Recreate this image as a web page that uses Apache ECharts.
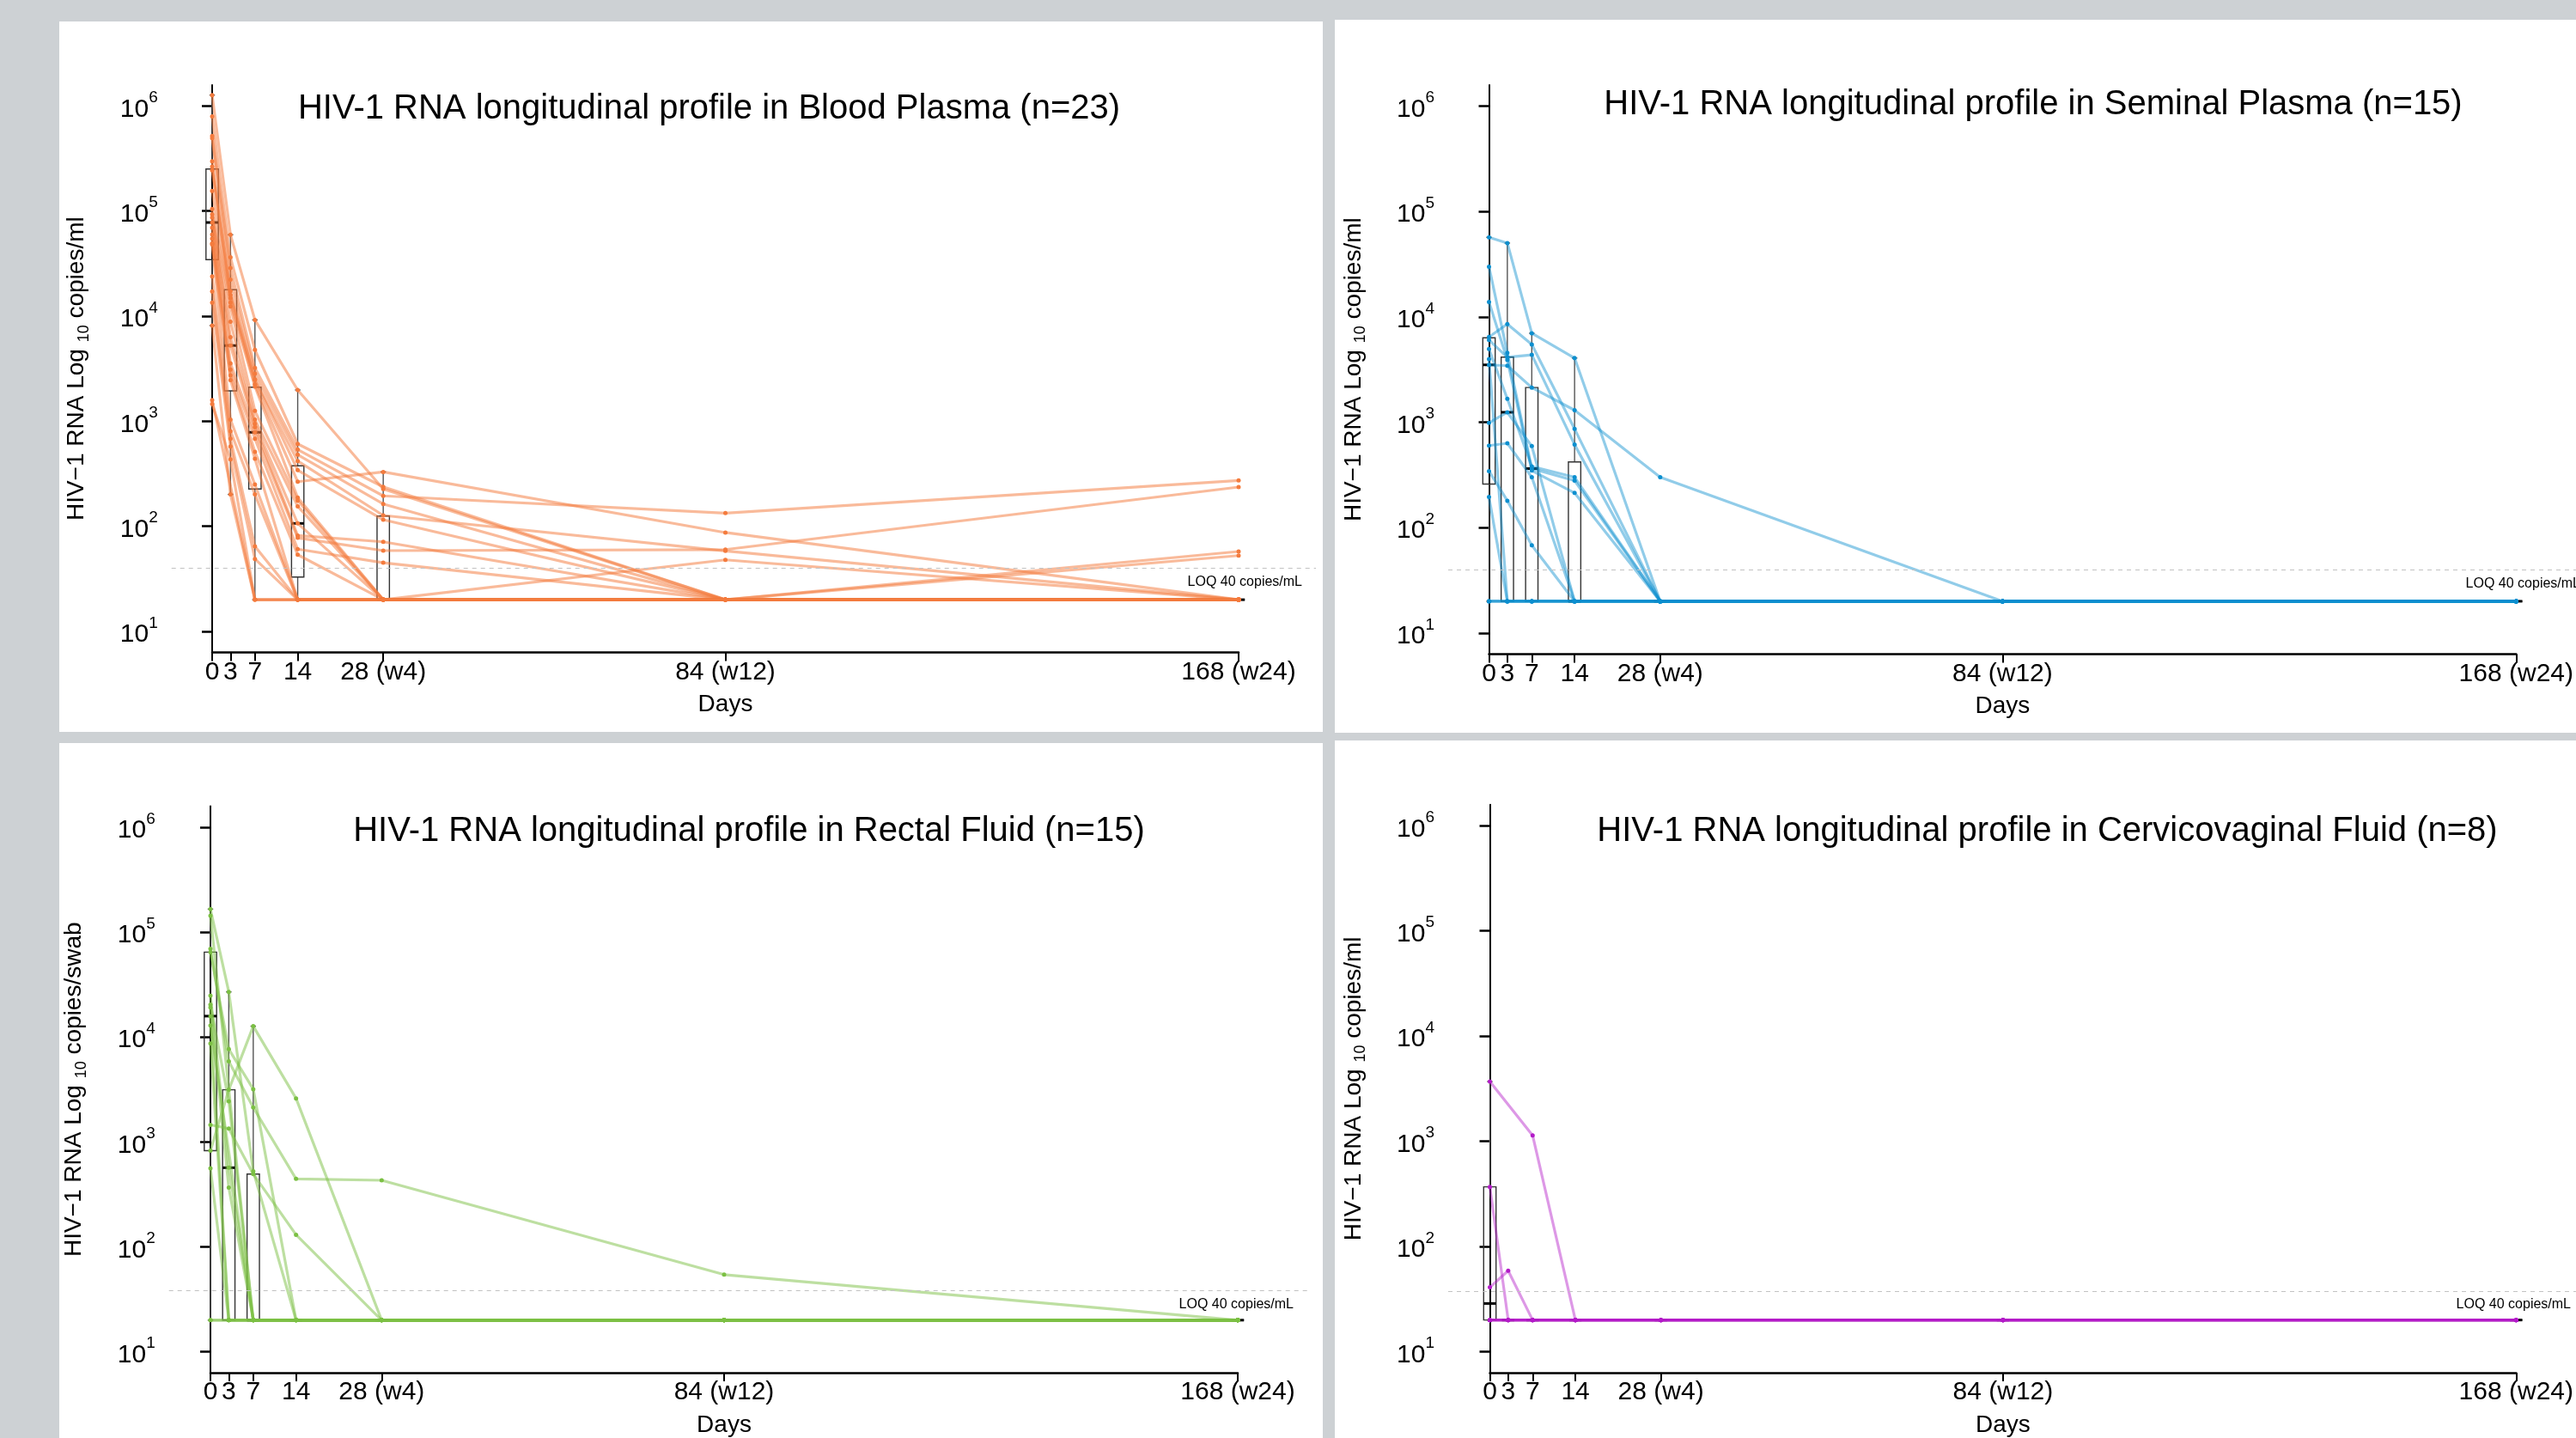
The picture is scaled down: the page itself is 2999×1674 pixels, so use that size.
<!DOCTYPE html>
<html>
<head>
<meta charset="utf-8">
<title>HIV-1 RNA longitudinal profiles</title>
<script src="https://cdn.jsdelivr.net/npm/echarts@6.0.0/dist/echarts.min.js"></script>
<style>
  html, body { margin: 0; padding: 0; background: #cdd1d4; }
  #chart { width: 2999px; height: 1674px; }
</style>
</head>
<body>
<div id="chart"></div>
<script>
// sampling days and their tick labels
const DAYS = [0, 3, 7, 14, 28, 84, 168];
const DAY_LABELS = ['0', '3', '7', '14', '28 (w4)', '84 (w12)', '168 (w24)'];
const LOG_TICKS = [1, 2, 3, 4, 5, 6];
const LOQ = 40; // copies/mL

// log10 copies per subject, one value per day (null = not sampled), <LOQ plotted at 20
const BLOOD_PLASMA = [
  [6.104, 4.774, 3.964, 3.297, 2.354, 1.301, 1.301],
  [5.900, 4.559, 3.679, 2.784, 2.375, 1.301, 1.301],
  [5.715, 4.457, 3.507, 2.730, 2.289, 2.125, 2.436],
  [5.695, 4.348, 3.452, 2.681, 2.212, 1.301, 1.301],
  [5.474, 4.238, 3.398, 2.621, 2.103, 1.765, 1.301],
  [5.423, 4.201, 3.392, 2.534, 2.062, 1.301, 1.301],
  [5.388, 4.172, 3.350, 2.424, 2.517, 1.940, 1.301],
  [5.191, 4.128, 3.330, 2.272, 1.301, 1.301, 1.301],
  [5.020, 4.092, 3.098, 2.244, 1.301, 1.301, 1.301],
  [4.968, 3.946, 3.015, 2.190, 1.301, 1.301, 1.301],
  [4.938, 3.800, 2.976, 2.027, 1.301, 1.680, 1.301],
  [4.891, 3.720, 2.943, 1.912, 1.852, 1.301, 1.760],
  [4.842, 3.551, 2.894, 1.890, 1.768, 1.778, 2.373],
  [4.777, 3.490, 2.833, 1.782, 1.653, 1.301, 1.721],
  [4.738, 3.435, 2.708, 1.729, 1.301, 1.301, 1.301],
  [4.693, 3.391, 2.643, 1.301, 1.301, 1.301, 1.301],
  [4.683, 3.015, 2.397, 1.301, 1.301, 1.301, 1.301],
  [4.379, 2.905, 2.303, 1.301, 1.301, 1.301, 1.301],
  [4.235, 2.832, 1.809, 1.301, 1.301, 1.301, 1.301],
  [4.128, 2.759, 1.689, 1.301, 1.301, 1.301, 1.301],
  [3.910, 2.303, 1.301, 1.301, 1.301, 1.301, 1.301],
  [3.201, null, 1.301, 1.301, 1.301, 1.301, 1.301],
  [3.164, 2.637, 1.301, 1.301, 1.301, 1.301, 1.301]
];
const SEMINAL_PLASMA = [
  [4.754, 4.700, 3.844, 3.609, 1.301, 1.301, 1.301],
  [4.476, 3.658, 2.560, 2.446, 1.301, 1.301, 1.301],
  [4.141, 3.590, 2.541, 2.329, 1.301, 1.301, 1.301],
  [3.809, 3.931, 3.738, 2.936, 1.301, 1.301, 1.301],
  [3.780, 3.617, 3.639, 2.787, 1.301, 1.301, 1.301],
  [3.694, 3.222, 2.580, 2.478, 1.301, 1.301, 1.301],
  [3.544, 3.536, 3.329, 3.114, 2.478, 1.301, 1.301],
  [2.994, 3.094, 2.773, 1.301, 1.301, 1.301, 1.301],
  [2.778, 2.800, 2.478, 1.301, 1.301, 1.301, 1.301],
  [2.536, 2.255, 1.832, 1.301, 1.301, 1.301, 1.301],
  [2.290, 1.301, 1.301, 1.301, 1.301, 1.301, 1.301],
  [3.600, 1.301, 1.301, 1.301, 1.301, 1.301, 1.301],
  [1.301, 1.301, 1.301, 1.301, 1.301, 1.301, 1.301],
  [1.301, 1.301, 1.301, 1.301, 1.301, 1.301, 1.301],
  [1.301, 1.301, 1.301, 1.301, 1.301, 1.301, 1.301]
];
const RECTAL_FLUID = [
  [5.219, 4.430, 2.721, 1.301, 1.301, 1.301, 1.301],
  [5.157, null, 1.301, 1.301, 1.301, 1.301, 1.301],
  [4.841, 3.769, 3.328, 2.648, 2.634, 1.735, 1.301],
  [4.809, 3.884, 3.503, 1.301, 1.301, 1.301, 1.301],
  [4.395, 2.754, 1.301, 1.301, 1.301, 1.301, 1.301],
  [4.308, 3.388, 1.301, 1.301, 1.301, 1.301, 1.301],
  [4.281, 2.564, 1.301, 1.301, 1.301, 1.301, 1.301],
  [4.199, 1.301, 1.301, 1.301, 1.301, 1.301, 1.301],
  [4.109, null, 1.301, 1.301, 1.301, 1.301, 1.301],
  [3.938, 1.301, 1.301, 1.301, 1.301, 1.301, 1.301],
  [3.162, 3.127, 2.694, 2.115, 1.301, 1.301, 1.301],
  [2.917, 3.497, 4.103, 3.415, 1.301, 1.301, 1.301],
  [2.748, 1.301, 1.301, 1.301, 1.301, 1.301, 1.301],
  [1.301, 1.301, 1.301, 1.301, 1.301, 1.301, 1.301],
  [1.301, 1.301, 1.301, 1.301, 1.301, 1.301, 1.301]
];
const CERVICOVAGINAL_FLUID = [
  [3.568, null, 3.057, 1.301, 1.301, 1.301, 1.301],
  [2.567, 1.301, 1.301, 1.301, 1.301, 1.301, 1.301],
  [1.612, 1.770, 1.301, 1.301, 1.301, 1.301, 1.301],
  [1.301, 1.301, 1.301, 1.301, 1.301, 1.301, 1.301],
  [1.301, 1.301, 1.301, 1.301, 1.301, 1.301, 1.301],
  [1.301, 1.301, 1.301, 1.301, 1.301, 1.301, 1.301],
  [1.301, 1.301, 1.301, 1.301, 1.301, 1.301, 1.301],
  [1.301, 1.301, 1.301, 1.301, 1.301, 1.301, 1.301]
];

// boxplot per day: [low whisker, q1, median, q3, high whisker] (log10)
const FLAT = [1.301, 1.301, 1.301, 1.301, 1.301];
const BLOOD_BOX = [
  [3.910, 4.537, 4.891, 5.400, 6.104],
  [2.303, 3.289, 3.720, 4.251, 4.774],
  [1.301, 2.354, 2.894, 3.324, 3.964],
  [1.301, 1.517, 2.027, 2.575, 3.297],
  [1.301, 1.301, 1.301, 2.097, 2.517],
  FLAT, FLAT
];
const SEMINAL_BOX = [
  [1.301, 2.413, 3.544, 3.801, 4.754],
  [1.301, 1.301, 3.094, 3.617, 4.700],
  [1.301, 1.301, 2.560, 3.329, 3.844],
  [1.301, 1.301, 1.301, 2.623, 3.609],
  FLAT, FLAT, FLAT
];
const RECTAL_BOX = [
  [1.301, 2.917, 4.199, 4.809, 5.219],
  [1.301, 1.301, 2.754, 3.497, 4.430],
  [1.301, 1.301, 1.301, 2.694, 4.103],
  FLAT, FLAT, FLAT, FLAT
];
const CERVICO_BOX = [
  [1.301, 1.301, 1.458, 2.567, 3.568],
  FLAT, FLAT, FLAT, FLAT, FLAT, FLAT
];

const FONT = '"Liberation Sans", Arial, Helvetica, sans-serif';

const PANELS = [
  { title: 'HIV-1 RNA longitudinal profile in Blood Plasma (n=23)', unit: 'copies/ml',
    subjects: BLOOD_PLASMA, box: BLOOD_BOX, color: '#F47B3D', alpha: 0.52,
    card: [69, 25, 1540, 852], axisX: 199.7, x0: 247, x168: 1442, top: 98.9, bottom: 759.4,
    wideRight: 1532, loqShift: 16, titleX: 825.5, titleTop: 106.5 },
  { title: 'HIV-1 RNA longitudinal profile in Seminal Plasma (n=15)', unit: 'copies/ml',
    subjects: SEMINAL_PLASMA, box: SEMINAL_BOX, color: '#0C8FCF', alpha: 0.45,
    card: [1554, 23, 2999, 853], axisX: 1686, x0: 1733.5, x168: 2933, top: 98.9, bottom: 761.4,
    wideRight: 2999, loqShift: -5, titleX: 2367, titleTop: 102 },
  { title: 'HIV-1 RNA longitudinal profile in Rectal Fluid (n=15)', unit: 'copies/swab',
    subjects: RECTAL_FLUID, box: RECTAL_BOX, color: '#7BC043', alpha: 0.5,
    card: [69, 865, 1540, 1674], axisX: 196.7, x0: 245, x168: 1441, top: 938.5, bottom: 1600.5,
    wideRight: 1522, loqShift: 16, titleX: 872, titleTop: 948 },
  { title: 'HIV-1 RNA longitudinal profile in Cervicovaginal Fluid (n=8)', unit: 'copies/ml',
    subjects: CERVICOVAGINAL_FLUID, box: CERVICO_BOX, color: '#B31BC8', alpha: 0.45,
    card: [1554, 862, 2999, 1674], axisX: 1686, x0: 1734.5, x168: 2933, top: 936.8, bottom: 1601.5,
    wideRight: 2999, loqShift: 6, titleX: 2383.5, titleTop: 948 }
];

const BOX_HALF = 7.2;
const CAP_HALF = 3.2;

function renderBox(params, api) {
  const x = api.value(0);
  const lo = api.coord([x, api.value(1)]);
  const q1 = api.coord([x, api.value(2)]);
  const md = api.coord([x, api.value(3)]);
  const q3 = api.coord([x, api.value(4)]);
  const hi = api.coord([x, api.value(5)]);
  const wStyle = { stroke: '#555', lineWidth: 1.4 };
  return {
    type: 'group',
    children: [
      { type: 'line', shape: { x1: lo[0], y1: lo[1], x2: q1[0], y2: q1[1] }, style: wStyle },
      { type: 'line', shape: { x1: q3[0], y1: q3[1], x2: hi[0], y2: hi[1] }, style: wStyle },
      { type: 'line', shape: { x1: lo[0] - CAP_HALF, y1: lo[1], x2: lo[0] + CAP_HALF, y2: lo[1] }, style: wStyle },
      { type: 'line', shape: { x1: hi[0] - CAP_HALF, y1: hi[1], x2: hi[0] + CAP_HALF, y2: hi[1] }, style: wStyle },
      { type: 'rect', shape: { x: q3[0] - BOX_HALF, y: q3[1], width: BOX_HALF * 2, height: q1[1] - q3[1] },
        style: { fill: 'none', stroke: '#333', lineWidth: 1.4 } },
      { type: 'line', shape: { x1: md[0] - BOX_HALF, y1: md[1], x2: md[0] + BOX_HALF, y2: md[1] },
        style: { stroke: '#000', lineWidth: 3 } }
    ]
  };
}

const grid = [], xAxis = [], yAxis = [], series = [], title = [], graphic = [];

PANELS.forEach((p, k) => {
  const gi = k * 2;
  const h = p.bottom - p.top;
  grid.push({ left: p.x0, top: p.top, width: p.x168 - p.x0, height: h });
  grid.push({ left: p.axisX, top: p.top, width: p.wideRight - p.axisX, height: h });

  graphic.push({ type: 'rect', z: -10, silent: true,
    shape: { x: p.card[0], y: p.card[1], width: p.card[2] - p.card[0], height: p.card[3] - p.card[1] },
    style: { fill: '#fff' } });

  title.push({ text: p.title, left: p.titleX, top: p.titleTop, textAlign: 'center', padding: 0,
    textStyle: { fontSize: 40, fontWeight: 'normal', fontFamily: FONT, color: '#000' } });

  xAxis.push({
    gridIndex: gi, type: 'value', min: 0, max: 168,
    name: 'Days', nameLocation: 'middle', nameGap: 47,
    nameTextStyle: { fontSize: 28, fontFamily: FONT, color: '#000' },
    axisLine: { show: true, lineStyle: { color: '#000', width: 2.5 } },
    axisTick: { show: true, customValues: DAYS, length: 10, lineStyle: { color: '#000', width: 2 } },
    axisLabel: { customValues: DAYS, hideOverlap: false, margin: 8,
      formatter: v => DAY_LABELS[DAYS.indexOf(v)],
      fontSize: 30, fontFamily: FONT, color: '#000' },
    splitLine: { show: false }
  });
  xAxis.push({ gridIndex: gi + 1, type: 'value', min: 0, max: 1, show: false });

  yAxis.push({
    gridIndex: gi, type: 'value', min: 0.8, max: 6.2, offset: p.x0 - p.axisX,
    name: '{n|HIV\u22121 RNA Log }{s|10}{n| ' + p.unit + '}',
    nameLocation: 'middle', nameGap: 93,
    nameTextStyle: {
      rich: {
        n: { fontSize: 28, fontFamily: FONT, color: '#000', lineHeight: 34 },
        s: { fontSize: 18, fontFamily: FONT, color: '#000', lineHeight: 34, verticalAlign: 'bottom' }
      }
    },
    axisLine: { show: true, lineStyle: { color: '#000', width: 2 } },
    axisTick: { show: true, customValues: LOG_TICKS, length: 12, lineStyle: { color: '#000', width: 2.5 } },
    axisLabel: { customValues: LOG_TICKS, margin: 16,
      formatter: v => '{b|10}{s|' + v + '}',
      rich: {
        b: { fontSize: 30, fontFamily: FONT, color: '#000', lineHeight: 38, verticalAlign: 'bottom' },
        s: { fontSize: 19, fontFamily: FONT, color: '#000', lineHeight: 38, verticalAlign: 'top' }
      } },
    splitLine: { show: false }
  });
  yAxis.push({ gridIndex: gi + 1, type: 'value', min: 0.8, max: 6.2, show: false });

  // LOQ reference line across the whole panel
  series.push({
    type: 'line', xAxisIndex: gi + 1, yAxisIndex: gi + 1, data: [], silent: true,
    markLine: {
      symbol: 'none', silent: true, animation: false,
      lineStyle: { color: '#c2c2c2', type: [5, 5], width: 1.2 },
      label: { position: 'insideEndBottom', formatter: 'LOQ 40 copies/mL', distance: [p.loqShift, 8],
        fontSize: 16, fontFamily: FONT, color: '#000' },
      data: [{ yAxis: Math.log10(LOQ) }]
    }
  });

  series.push({
    type: 'custom', xAxisIndex: gi, yAxisIndex: gi, z: 1, silent: true,
    renderItem: renderBox, encode: { x: 0, y: [1, 2, 3, 4, 5] },
    data: DAYS.map((d, i) => [d].concat(p.box[i]))
  });

  p.subjects.forEach(s => {
    series.push({
      type: 'line', xAxisIndex: gi, yAxisIndex: gi, z: 2, silent: true,
      connectNulls: true, symbol: 'circle', symbolSize: 5, showSymbol: true,
      itemStyle: { color: p.color },
      lineStyle: { color: p.color, opacity: p.alpha, width: 3.2 },
      data: DAYS.map((d, i) => [d, s[i]])
    });
  });
});

const chart = echarts.init(document.getElementById('chart'), null, { renderer: 'canvas' });
chart.setOption({
  animation: false,
  backgroundColor: '#cdd1d4',
  graphic: graphic,
  title: title,
  grid: grid,
  xAxis: xAxis,
  yAxis: yAxis,
  series: series
});
</script>
</body>
</html>
